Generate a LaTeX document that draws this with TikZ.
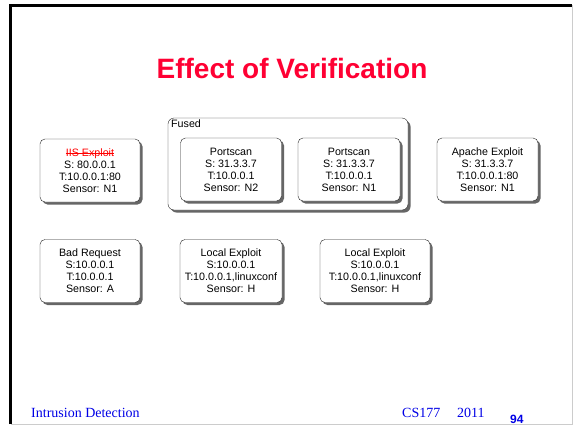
\documentclass[tikz,border=0pt]{standalone}
\usepackage{fontspec}
\setmainfont{Liberation Serif}
\setsansfont{Liberation Sans}
\usetikzlibrary{shadows}

\definecolor{titlered}{RGB}{255,0,51}
\definecolor{footblue}{RGB}{0,0,230}
% red struck-out text
\newcommand{\strikered}[1]{{\color{red}\setbox0\hbox{#1}\rlap{\rule[0.3em]{\wd0}{0.6pt}}\box0}}

\tikzset{
  alertbox/.style={draw=black!85,rounded corners=5pt,fill=white,align=center,
    minimum height=63pt,inner sep=2pt,
    font=\sffamily\fontsize{10.7}{12}\selectfont,
    drop shadow={shadow xshift=2.5pt,shadow yshift=-2.5pt,fill=black!60,opacity=1}},
  fusedbox/.style={alertbox,rounded corners=6pt,minimum width=240pt,minimum height=92pt},
  footer/.style={text=footblue,font=\fontsize{14}{16}\selectfont,inner sep=0pt}
}

\begin{document}
\begin{tikzpicture}[x=1pt,y=-1pt]
          \useasboundingbox (0,0) rectangle (573,426);
          % slide frame
          \draw[black!20,line width=0.8pt] (572,5.3)--(572,424)--(10.5,424);
          \draw[black,line width=2.5pt] (10.5,424)--(10.5,5.3)--(572,5.3);
          \node[text=titlered,font=\sffamily\bfseries\fontsize{28}{32}\selectfont]
            (title) at (292,68) {Effect of Verification};
          %\draw[very thin,lightgray] (0,0) grid[step=50] (573,426);
          \node[fusedbox] (fused) at (288,164) {};
          \node[anchor=north west,inner sep=0pt,font=\sffamily\fontsize{10.7}{12}\selectfont]
            (fusedlabel) at (171,119.5) {Fused};
          \node[alertbox,minimum width=100pt] (iis) at (90,170.5)
            {\strikered{IIS Exploit}\\S: 80.0.0.1\\T:10.0.0.1:80\\Sensor: N1};
          \node[alertbox,minimum width=101pt] (scanA) at (231,169.5)
            {Portscan\\S: 31.3.3.7\\T:10.0.0.1\\Sensor: N2};
          \node[alertbox,minimum width=102pt] (scanB) at (349,169.5)
            {Portscan\\S: 31.3.3.7\\T:10.0.0.1\\Sensor: N1};
          \node[alertbox,minimum width=101pt] (apache) at (487.5,169.5)
            {Apache Exploit\\S: 31.3.3.7\\T:10.0.0.1:80\\Sensor: N1};
          \node[alertbox,minimum width=100pt] (badreq) at (90,271)
            {Bad Request\\S:10.0.0.1\\T:10.0.0.1\\Sensor: A};
          \node[alertbox,minimum width=102pt] (localA) at (231,271)
            {Local Exploit\\S:10.0.0.1\\T:10.0.0.1,linuxconf\\Sensor: H};
          \node[alertbox,minimum width=110pt] (localB) at (375,271)
            {Local Exploit\\S:10.0.0.1\\T:10.0.0.1,linuxconf\\Sensor: H};
          % footer
          \node[footer,anchor=base west] (course) at (31,417) {Intrusion Detection};
          \node[footer,anchor=base west] (cs) at (402,417) {CS177};
          \node[footer,anchor=base west] (year) at (457,417) {2011};
          \node[text=footblue,anchor=base west,inner sep=0pt,
            font=\sffamily\bfseries\fontsize{12}{14}\selectfont] (page) at (510,423) {94};
        \end{tikzpicture}
\end{document}
